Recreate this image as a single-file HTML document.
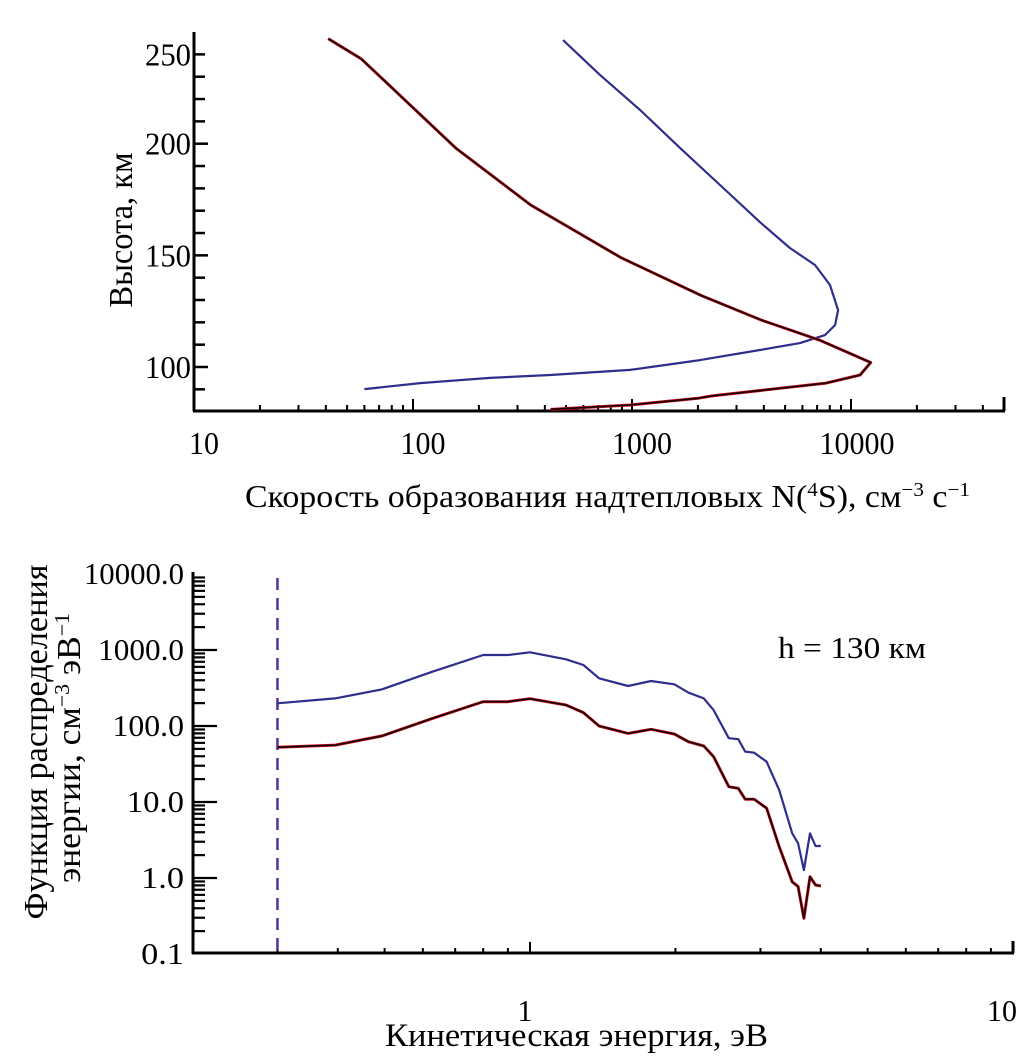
<!DOCTYPE html>
<html><head><meta charset="utf-8"><style>
html,body{margin:0;padding:0;background:#fff}
svg{display:block}
text{font-family:"Liberation Serif",serif;fill:#000}
</style></head><body>
<svg id="chart" width="1036" height="1060" viewBox="0 0 1036 1060" xmlns="http://www.w3.org/2000/svg">
<g id="top"></g>
<g id="bot"></g>
</svg>
<script>
// ---- top chart data ----
const topBlueN = [484,714,1089,1656,2523,3839,5260,6850,8020,8730,8460,7610,5850,3839,2045,980,423,225,108,60];
const topBlueH = [246.4,230.8,215.1,198.1,181.5,164.9,153.3,145.7,136.7,125.5,118.8,114.3,110.7,107.6,103.1,98.7,96.4,95.1,92.8,90.1];
const topRedN = [41,58,157,345,890,2070,3900,7200,12300,11000,7700,2300,2000,980,425];
const topRedH = [247,238,198,172.5,149,132,121,112,102,96.4,92.8,87,86,83,81];
const topXLabels = ['10','100','1000','10000'];
const topYLabelVals = [100,150,200,240];
const topYLabels = ['100','150','200','250'];
// ---- bottom chart data ----
const botE = [0.30,0.395,0.494,0.628,0.80,0.90,1.0,1.187,1.29,1.39,1.596,1.78,1.99,2.13,2.29,2.40,2.58,2.70,2.79,2.91,3.09,3.28,3.49,3.59,3.69,3.80,3.90,4.00];
const botBlue = [199,231,304,518,859,859,933,755,635,424,336,391,354,274,231,162,69,67,46,44.5,33.9,14.4,3.87,2.86,1.27,3.87,2.64,2.64];
const botRed = [52.5,56,74,126,209,209,229,189,150,100,80,90.5,78.5,62,54.5,39.4,15.9,15.1,10.9,10.9,8.3,2.58,0.89,0.77,0.295,1.04,0.81,0.785];
const botYLabels = ['0.1','1.0','10.0','100.0','1000.0','10000.0'];
const botXLabels = ['1','10'];
const dashedE = 0.3;

const NS='http://www.w3.org/2000/svg';
function mk(parent,tag,attrs){const e=document.createElementNS(NS,tag);for(const k in attrs)e.setAttribute(k,attrs[k]);parent.appendChild(e);return e;}
// top axes
const tx = v => 194 + (Math.log10(v)-1)*219;
const ty = h => 367 - (h-100)*2.233;
const T=document.getElementById('top');
let l=mk(T,'line',{x1:194,y1:32,x2:194,y2:411,stroke:'#000','stroke-width':3});


l=mk(T,'line',{x1:193,y1:411,x2:1005,y2:411,stroke:'#000','stroke-width':3});


mk(T,'line',{x1:1004,y1:397,x2:1004,y2:411,stroke:'#000','stroke-width':3});
for(let h=90;h<=240;h+=10){const maj=(h%50===0);
 const t=mk(T,'line',{x1:194,y1:ty(h),x2:194+(maj?14:11),y2:ty(h),stroke:'#000','stroke-width':2.5});
 
 }
for(let d=10;d<=10000;d*=10){for(let m=1;m<=9;m++){const v=d*m;if(v>40000)break;if(v===10)continue;
 const maj=(m===1);const t=mk(T,'line',{x1:tx(v),y1:411,x2:tx(v),y2:maj?399:405,stroke:'#000','stroke-width':2});
 
 }}
topXLabels.forEach((s,i)=>{const v=Math.pow(10,i+1);const t=mk(T,'text',{x:tx(v)+10+(i===3?-4:0),y:454,'font-size':32,'text-anchor':'middle',textLength:s.length*15,lengthAdjust:'spacingAndGlyphs'});t.textContent=s;
 
 });
topYLabelVals.forEach((v,i)=>{const t=mk(T,'text',{x:191,y:ty(v)+11,'font-size':32,'text-anchor':'end',textLength:46,lengthAdjust:'spacingAndGlyphs'});t.textContent=topYLabels[i];
 
 });
let tt=mk(T,'text',{x:245,y:507,'font-size':32,textLength:725,lengthAdjust:'spacingAndGlyphs'});
tt.innerHTML='Скорость образования надтепловых N(<tspan dy="-11" font-size="20">4</tspan><tspan dy="11">S), см</tspan><tspan dy="-11" font-size="20">−3</tspan><tspan dy="11"> с</tspan><tspan dy="-11" font-size="20">−1</tspan>';


tt=mk(T,'text',{x:0,y:0,'font-size':34,'text-anchor':'middle',transform:'translate(132,230) rotate(-90)',textLength:155,lengthAdjust:'spacingAndGlyphs'});
tt.textContent='Высота, км';


function pathTop(N,H){return N.map((n,i)=>(i?'L':'M')+tx(n).toFixed(1)+','+ty(H[i]).toFixed(1)).join(' ');}
let p=mk(T,'path',{d:pathTop(topBlueN,topBlueH),fill:'none',stroke:'#2e2e8c','stroke-width':2.2,'stroke-linejoin':'round'});


p=mk(T,'path',{d:pathTop(topRedN,topRedH),fill:'none',stroke:'#e01020','stroke-width':3,'stroke-linejoin':'round'});


p=mk(T,'path',{d:pathTop(topRedN,topRedH),fill:'none',stroke:'#1a0505','stroke-width':1.8,'stroke-linejoin':'round'});



// bottom axes
const bx = e => 530 + Math.log10(e)*483;
const by = f => 726 - (Math.log10(f)-2)*76;
const B=document.getElementById('bot');
l=mk(B,'line',{x1:193,y1:572,x2:193,y2:954,stroke:'#000','stroke-width':3});


l=mk(B,'line',{x1:192,y1:953,x2:1014,y2:953,stroke:'#000','stroke-width':3});


mk(B,'line',{x1:1013,y1:941,x2:1013,y2:953,stroke:'#000','stroke-width':3});
for(let d=0.1;d<=1000;d*=10){for(let m=1;m<=9;m++){const v=d*m;const maj=(m===1);
 if(maj&&d<0.5)continue;
 const t=mk(B,'line',{x1:193,y1:by(v),x2:193+(maj?24:12),y2:by(v),stroke:'#000','stroke-width':2.2});
 
 }}
for(let d=0.1;d<=1;d*=10){for(let m=1;m<=9;m++){const v=d*m;if(v<0.25)continue;const maj=(m===1);
 const t=mk(B,'line',{x1:bx(v),y1:953,x2:bx(v),y2:maj?942:948,stroke:'#000','stroke-width':2});
 
 }}
botYLabels.forEach((s,i)=>{const v=Math.pow(10,i-1);const t=mk(B,'text',{x:184,y:by(v)+10,'font-size':31,'text-anchor':'end',textLength:s.length*14.3,lengthAdjust:'spacingAndGlyphs'});t.textContent=s;
 
 });
botXLabels.forEach((s,i)=>{const v=Math.pow(10,i);const t=mk(B,'text',{x:bx(v)-5-(i?6:0),y:1021,'font-size':31,'text-anchor':'middle',textLength:s.length*15,lengthAdjust:'spacingAndGlyphs'});t.textContent=s;
 
 });
tt=mk(B,'text',{x:385,y:1046,'font-size':33,textLength:383,lengthAdjust:'spacingAndGlyphs'});
tt.textContent='Кинетическая энергия, эВ';


tt=mk(B,'text',{x:0,y:0,'font-size':34,'text-anchor':'middle',transform:'translate(47,742) rotate(-90)',textLength:355,lengthAdjust:'spacingAndGlyphs'});
tt.textContent='Функция распределения';


tt=mk(B,'text',{x:0,y:0,'font-size':34,'text-anchor':'middle',transform:'translate(80,748) rotate(-90)',textLength:270,lengthAdjust:'spacingAndGlyphs'});
tt.innerHTML='энергии, см<tspan dy="-11" font-size="21">−3</tspan><tspan dy="11"> эВ</tspan><tspan dy="-11" font-size="21">−1</tspan>';


tt=mk(B,'text',{x:778,y:658,'font-size':31,textLength:148,lengthAdjust:'spacingAndGlyphs'});
tt.textContent='h = 130 км';


l=mk(B,'line',{x1:bx(dashedE),y1:578,x2:bx(dashedE),y2:953,stroke:'#55309a','stroke-width':2.5,'stroke-dasharray':'12 8'});


function pathBot(E,F){return E.map((e,i)=>(i?'L':'M')+bx(e).toFixed(1)+','+by(F[i]).toFixed(1)).join(' ');}
p=mk(B,'path',{d:pathBot(botE,botBlue),fill:'none',stroke:'#2e2e8c','stroke-width':2.2,'stroke-linejoin':'round'});


p=mk(B,'path',{d:pathBot(botE,botRed),fill:'none',stroke:'#e01020','stroke-width':3,'stroke-linejoin':'round'});


p=mk(B,'path',{d:pathBot(botE,botRed),fill:'none',stroke:'#1a0505','stroke-width':1.8,'stroke-linejoin':'round'});


</script>
</body></html>
